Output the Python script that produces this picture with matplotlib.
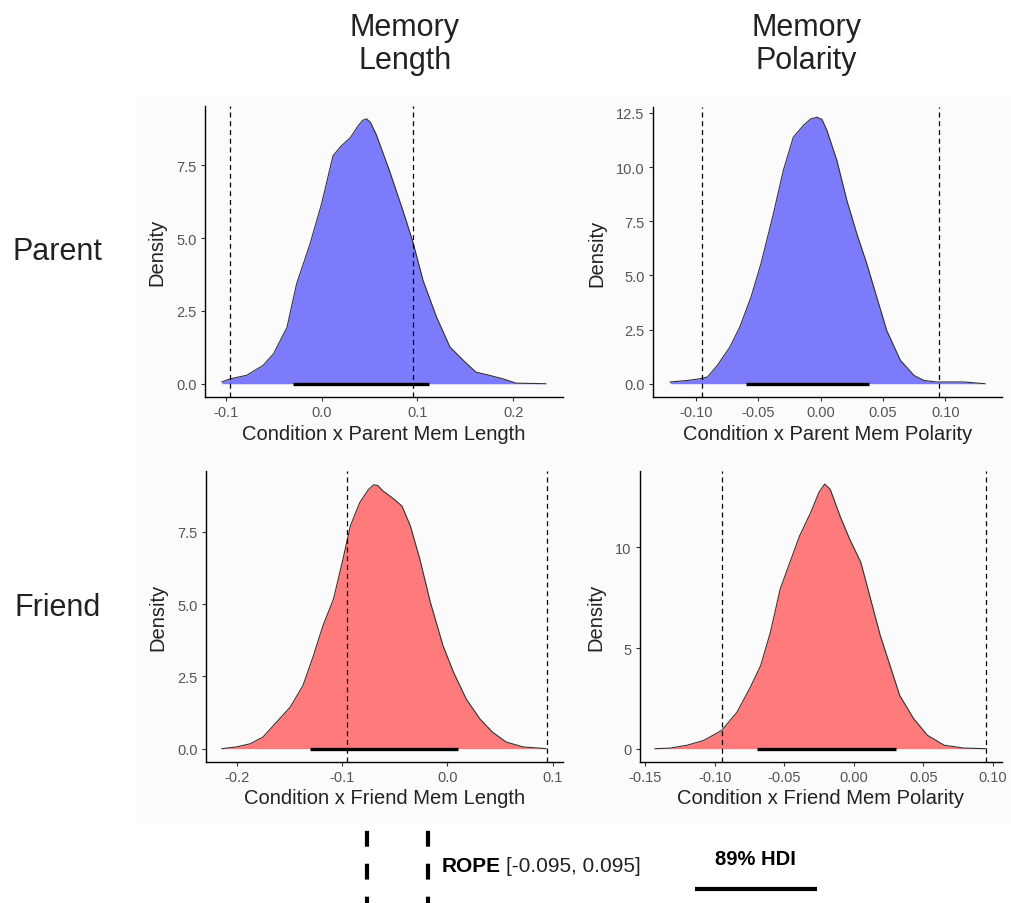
import matplotlib
matplotlib.use("Agg")
import matplotlib.pyplot as plt
from matplotlib.patches import Rectangle

plt.rcParams['font.family'] = ['Liberation Sans', 'DejaVu Sans']

rope = [-0.095, 0.095]

# posterior densities
pl_x = [-0.104, -0.095, -0.078, -0.061, -0.050, -0.036, -0.026, -0.012, 0.0, 0.012, 0.020, 0.030,
        0.038, 0.043, 0.047, 0.051, 0.057, 0.071, 0.085, 0.095, 0.106, 0.120, 0.134, 0.148,
        0.161, 0.175, 0.189, 0.203, 0.234]
pl_d = [0.06, 0.17, 0.29, 0.63, 1.03, 1.94, 3.43, 4.8, 6.17, 7.83, 8.15, 8.45,
        8.85, 9.05, 9.10, 8.98, 8.57, 7.31, 5.94, 4.91, 3.54, 2.29, 1.26, 0.80,
        0.40, 0.29, 0.17, 0.02, 0.0]
pl_hdi = [-0.030, 0.112]

pp_x = [-0.121, -0.107, -0.097, -0.091, -0.083, -0.073, -0.065, -0.056, -0.048, -0.038, -0.030,
        -0.022, -0.014, -0.008, -0.003, 0.001, 0.005, 0.013, 0.021, 0.029, 0.037, 0.045,
        0.053, 0.064, 0.075, 0.083, 0.093, 0.115, 0.132]
pp_d = [0.08, 0.15, 0.23, 0.31, 0.85, 1.69, 2.62, 4.0, 5.54, 7.85, 9.85,
        11.38, 11.92, 12.22, 12.30, 12.20, 11.69, 10.3, 8.46, 6.92, 5.54, 4.0,
        2.46, 1.08, 0.38, 0.15, 0.08, 0.08, 0.0]
pp_hdi = [-0.060, 0.039]

fl_x = [-0.214, -0.200, -0.187, -0.175, -0.162, -0.149, -0.137, -0.127, -0.118, -0.108, -0.099,
        -0.092, -0.083, -0.075, -0.070, -0.066, -0.061, -0.051, -0.043, -0.035, -0.026,
        -0.016, -0.004, 0.006, 0.018, 0.031, 0.043, 0.056, 0.072, 0.094]
fl_d = [0.0, 0.06, 0.17, 0.40, 0.92, 1.44, 2.18, 3.22, 4.25, 5.17, 6.55,
        7.70, 8.51, 8.95, 9.12, 9.10, 8.91, 8.64, 8.39, 7.70, 6.55,
        5.06, 3.56, 2.64, 1.72, 1.03, 0.57, 0.23, 0.06, 0.0]
fl_hdi = [-0.130, 0.010]

fp_x = [-0.143, -0.132, -0.120, -0.108, -0.095, -0.084, -0.075, -0.067, -0.060, -0.053, -0.046,
        -0.039, -0.031, -0.025, -0.021, -0.017, -0.010, -0.003, 0.005, 0.012, 0.019,
        0.026, 0.033, 0.043, 0.053, 0.065, 0.079, 0.095]
fp_d = [0.0, 0.03, 0.17, 0.41, 0.91, 1.82, 2.98, 4.13, 5.79, 7.93, 9.26,
        10.58, 11.74, 12.75, 13.15, 12.89, 11.57, 10.41, 9.26, 7.44, 5.62,
        4.13, 2.64, 1.49, 0.66, 0.17, 0.03, 0.0]
fp_hdi = [-0.070, 0.030]

col_titles = ['Memory\nLength', 'Memory\nPolarity']
row_titles = ['Parent', 'Friend']
xlabels = ['Condition x Parent Mem Length', 'Condition x Parent Mem Polarity',
           'Condition x Friend Mem Length', 'Condition x Friend Mem Polarity']

panels = [
    dict(x=pl_x, d=pl_d, hdi=pl_hdi, color='#7b7bfb', rect=[0.2026, 0.5597, 0.3538, 0.3219],
         xlim=(-0.1215, 0.252), ylim=(-0.457, 9.54), xt=[-0.1, 0.0, 0.1, 0.2], xfmt='%.1f',
         yt=[0.0, 2.5, 5.0, 7.5], yfmt='%.1f'),
    dict(x=pp_x, d=pp_d, hdi=pp_hdi, color='#7b7bfb', rect=[0.6453, 0.5597, 0.3449, 0.3208],
         xlim=(-0.1347, 0.1457), ylim=(-0.615, 12.77), xt=[-0.10, -0.05, 0.0, 0.05, 0.10], xfmt='%.2f',
         yt=[0.0, 2.5, 5.0, 7.5, 10.0, 12.5], yfmt='%.1f'),
    dict(x=fl_x, d=fl_d, hdi=fl_hdi, color='#ff7b7b', rect=[0.2036, 0.156, 0.3528, 0.3219],
         xlim=(-0.229, 0.110), ylim=(-0.46, 9.6), xt=[-0.2, -0.1, 0.0, 0.1], xfmt='%.1f',
         yt=[0.0, 2.5, 5.0, 7.5], yfmt='%.1f'),
    dict(x=fp_x, d=fp_d, hdi=fp_hdi, color='#ff7b7b', rect=[0.6324, 0.156, 0.3577, 0.3219],
         xlim=(-0.1538, 0.1065), ylim=(-0.66, 13.8), xt=[-0.15, -0.10, -0.05, 0.0, 0.05, 0.10], xfmt='%.2f',
         yt=[0, 5, 10], yfmt='%d'),
]

fig = plt.figure(figsize=(10.12, 9.04), dpi=100)
fig.patches.append(Rectangle((0.135, 0.087), 0.865, 0.806, transform=fig.transFigure,
                             facecolor='#fbfbfb', edgecolor='none', zorder=-10))

for i, p in enumerate(panels):
    ax = fig.add_axes(p['rect'])
    ax.patch.set_alpha(0)
    ax.fill_between(p['x'], 0, p['d'], color=p['color'], linewidth=0, zorder=2)
    ax.plot(p['x'], p['d'], color='#333333', linewidth=0.8, zorder=3, solid_joinstyle='round')
    for r in rope:
        ax.axvline(r, color='black', linestyle=(0, (4, 3)), linewidth=0.9, zorder=4)
    ax.plot(p['hdi'], [0, 0], color='black', linewidth=2.4, solid_capstyle='butt', zorder=5)
    ax.set_xlim(p['xlim'])
    ax.set_ylim(p['ylim'])
    ax.set_xticks(p['xt'])
    ax.set_xticklabels([p['xfmt'] % v for v in p['xt']])
    ax.set_yticks(p['yt'])
    ax.set_yticklabels([p['yfmt'] % v for v in p['yt']])
    for s in ['top', 'right']:
        ax.spines[s].set_visible(False)
    for s in ['left', 'bottom']:
        ax.spines[s].set_linewidth(1.0)
        ax.spines[s].set_color('black')
    ax.tick_params(axis='both', colors='#333333', labelcolor='#555555', labelsize=10.5,
                   length=3, width=0.8, pad=3)
    ax.set_xlabel(xlabels[i], fontsize=14.5, color='#222222', labelpad=3)
    ax.set_ylabel('Density', fontsize=14.5, color='#222222', labelpad=7)

fig.text(0.400, 0.9508, col_titles[0], ha='center', va='center', fontsize=22, linespacing=1.15, color='#222222')
fig.text(0.797, 0.9508, col_titles[1], ha='center', va='center', fontsize=22, linespacing=1.15, color='#222222')
fig.text(0.057, 0.7207, row_titles[0], ha='center', va='center', fontsize=22, color='#222222')
fig.text(0.057, 0.3274, row_titles[1], ha='center', va='center', fontsize=22, color='#222222')

# legend strip
lax = fig.add_axes([0, 0, 1, 0.0863])
lax.set_xlim(0, 1)
lax.set_ylim(0, 1)
lax.axis('off')
for lx in [0.3627, 0.4229]:
    lax.plot([lx, lx], [1.0, 0.0], color='black', linewidth=3.0, linestyle=(6.5, (3.8, 4.1)),
             solid_capstyle='butt', dash_capstyle='butt')
rt = lax.text(0.4368, 0.487, 'ROPE', fontsize=15, fontweight='bold', ha='left', va='center')
lax.annotate('[-0.095, 0.095]', xy=(1, 0.5), xycoords=rt, xytext=(3.5, 0), textcoords='offset points',
             fontsize=15, ha='left', va='center', color='#222222')
lax.text(0.746, 0.57, '89% HDI', fontsize=14.5, fontweight='bold', ha='center', va='center')
lax.plot([0.687, 0.807], [0.18, 0.18], color='black', linewidth=3.0, solid_capstyle='butt')

fig.savefig('out.png', dpi=100)
